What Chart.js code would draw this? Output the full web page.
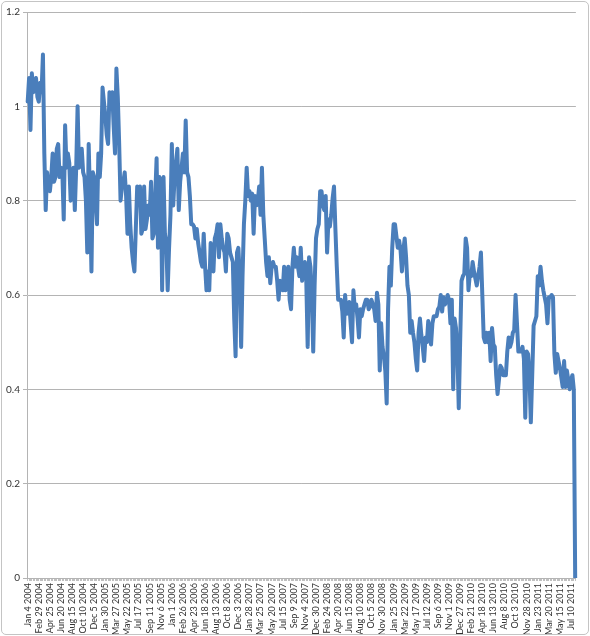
<!DOCTYPE html>
<html>
<head>
<meta charset="utf-8">
<script src="https://cdn.jsdelivr.net/npm/chart.js@4.4.1/dist/chart.umd.min.js"></script>
<style>
  html, body { margin: 0; padding: 0; background: #fff; }
  #frame {
    position: absolute; left: 1px; top: 1px;
    width: 586px; height: 632px;
    border: 1px solid #c4c4c4; border-radius: 5px;
  }
  canvas { display: block; }
</style>
</head>
<body>
<div id="frame"><canvas id="chart" width="586" height="632"></canvas></div>
<script>
// Weekly series, first week Jan 4 2004
const startDate = Date.UTC(2004, 0, 4);
const monthNames = ['Jan', 'Feb', 'Mar', 'Apr', 'May', 'Jun', 'Jul', 'Aug', 'Sep', 'Oct', 'Nov', 'Dec'];
const labelEvery = 8;

const values = [
  1.01, 1.06, 0.95, 1.07, 1.03, 1.05, 1.06, 1.02, 1.01, 1.05,
  1.03, 1.11, 0.90, 0.78, 0.86, 0.83, 0.82, 0.85, 0.90, 0.84,
  0.85, 0.91, 0.92, 0.85, 0.87, 0.86, 0.76, 0.96, 0.87, 0.90,
  0.88, 0.80, 0.83, 0.87, 0.78, 0.87, 1.00, 0.87, 0.88, 0.91,
  0.86, 0.85, 0.80, 0.69, 0.92, 0.80, 0.65, 0.86, 0.85, 0.80,
  0.75, 0.90, 0.85, 0.90, 1.04, 1.01, 0.98, 0.94, 0.92, 1.03,
  1.01, 1.03, 0.96, 0.90, 1.08, 1.02, 0.92, 0.80, 0.83, 0.84,
  0.86, 0.81, 0.73, 0.83, 0.75, 0.70, 0.67, 0.65, 0.74, 0.83,
  0.80, 0.83, 0.73, 0.74, 0.83, 0.74, 0.76, 0.79, 0.77, 0.84,
  0.72, 0.73, 0.81, 0.89, 0.70, 0.85, 0.84, 0.61, 0.85, 0.73,
  0.71, 0.61, 0.70, 0.77, 0.92, 0.79, 0.85, 0.88, 0.91, 0.78,
  0.84, 0.87, 0.90, 0.86, 0.97, 0.86, 0.85, 0.81, 0.75, 0.75,
  0.745, 0.72, 0.74, 0.71, 0.69, 0.67, 0.66, 0.73, 0.66, 0.61,
  0.65, 0.61, 0.71, 0.69, 0.65, 0.72, 0.73, 0.75, 0.68, 0.75,
  0.72, 0.70, 0.69, 0.65, 0.73, 0.72, 0.69, 0.68, 0.67, 0.55,
  0.47, 0.69, 0.70, 0.64, 0.49, 0.64, 0.75, 0.80, 0.87, 0.81,
  0.82, 0.80, 0.815, 0.73, 0.81, 0.79, 0.80, 0.83, 0.77, 0.87,
  0.77, 0.72, 0.67, 0.64, 0.68, 0.625, 0.66, 0.67, 0.66, 0.66,
  0.63, 0.59, 0.63, 0.62, 0.61, 0.66, 0.61, 0.63, 0.66, 0.59,
  0.57, 0.66, 0.70, 0.66, 0.68, 0.66, 0.64, 0.70, 0.63, 0.665,
  0.67, 0.63, 0.49, 0.68, 0.66, 0.60, 0.48, 0.62, 0.72, 0.74,
  0.75, 0.82, 0.82, 0.79, 0.78, 0.81, 0.69, 0.76, 0.745, 0.77,
  0.805, 0.83, 0.74, 0.66, 0.59, 0.59, 0.59, 0.565, 0.51, 0.60,
  0.56, 0.58, 0.585, 0.54, 0.50, 0.61, 0.57, 0.58, 0.55, 0.51,
  0.57, 0.555, 0.57, 0.58, 0.59, 0.59, 0.57, 0.575, 0.59, 0.58,
  0.57, 0.545, 0.605, 0.58, 0.44, 0.54, 0.49, 0.47, 0.44, 0.37,
  0.57, 0.66, 0.62, 0.70, 0.75, 0.75, 0.725, 0.70, 0.715, 0.695,
  0.65, 0.695, 0.72, 0.68, 0.62, 0.60, 0.52, 0.545, 0.52, 0.50,
  0.465, 0.44, 0.52, 0.55, 0.515, 0.49, 0.46, 0.51, 0.50, 0.545,
  0.52, 0.495, 0.54, 0.555, 0.555, 0.555, 0.57, 0.575, 0.60, 0.565,
  0.595, 0.58, 0.585, 0.60, 0.59, 0.54, 0.59, 0.40, 0.55, 0.53,
  0.48, 0.36, 0.50, 0.63, 0.64, 0.645, 0.72, 0.70, 0.61, 0.645,
  0.64, 0.67, 0.65, 0.635, 0.62, 0.64, 0.66, 0.69, 0.60, 0.51,
  0.50, 0.52, 0.50, 0.52, 0.46, 0.53, 0.495, 0.49, 0.43, 0.39,
  0.42, 0.45, 0.445, 0.43, 0.43, 0.43, 0.48, 0.51, 0.49, 0.50,
  0.52, 0.525, 0.60, 0.54, 0.48, 0.48, 0.48, 0.49, 0.465, 0.34,
  0.48, 0.475, 0.43, 0.33, 0.43, 0.535, 0.545, 0.555, 0.64, 0.62,
  0.66, 0.63, 0.61, 0.595, 0.58, 0.54, 0.595, 0.595, 0.60, 0.595,
  0.475, 0.435, 0.475, 0.46, 0.445, 0.425, 0.405, 0.46, 0.405, 0.44,
  0.42, 0.40, 0.42, 0.43, 0.40, 0
];

// one category per week: "Jan 4 2004", "Jan 11 2004", ...
const weekLabels = values.map((v, i) => {
    const d = new Date(startDate + i * 7 * 86400000);
    return monthNames[d.getUTCMonth()] + ' ' + d.getUTCDate() + ' ' + d.getUTCFullYear();
});

const yMin = 0;
const yMax = 1.2;
const yStep = 0.2;

const lineColor = '#4a7ebb';
const gridColor = '#b4b4b4';
const textColor = '#333333';

new Chart(document.getElementById('chart').getContext('2d'), {
    type: 'line',
    data: {
        labels: weekLabels,
        datasets: [{
            data: values,
            borderColor: lineColor,
            borderWidth: 4,
            borderJoinStyle: 'round',
            borderCapStyle: 'round',
            pointRadius: 0,
            tension: 0,
            fill: false
        }]
    },
    options: {
        responsive: false,
        animation: false,
        events: [],
        layout: { padding: { top: 10, right: 10, left: 0, bottom: 0 } },
        plugins: {
            legend: { display: false },
            tooltip: { enabled: false }
        },
        scales: {
            x: {
                offset: true,
                grid: {
                    drawOnChartArea: false,
                    drawTicks: true,
                    tickLength: 3,
                    color: '#c0c0c0'
                },
                border: { color: gridColor },
                ticks: {
                    autoSkip: false,
                    maxRotation: 90,
                    minRotation: 90,
                    padding: 2,
                    color: textColor,
                    font: { family: 'Lato', size: 9 },
                    callback: function (value, index) {
                        return index % labelEvery === 0 ? this.getLabelForValue(value) : '';
                    }
                },
                afterFit: (scale) => { scale.height = 56; }
            },
            y: {
                min: yMin,
                max: yMax,
                grid: {
                    color: gridColor,
                    tickLength: 4
                },
                border: { color: gridColor },
                ticks: {
                    stepSize: yStep,
                    padding: 3,
                    color: textColor,
                    font: { family: 'Lato', size: 10 },
                    callback: (v) => String(Math.round(v * 10) / 10)
                },
                afterFit: (scale) => { scale.width = 25; }
            }
        }
    }
});
</script>
</body>
</html>
